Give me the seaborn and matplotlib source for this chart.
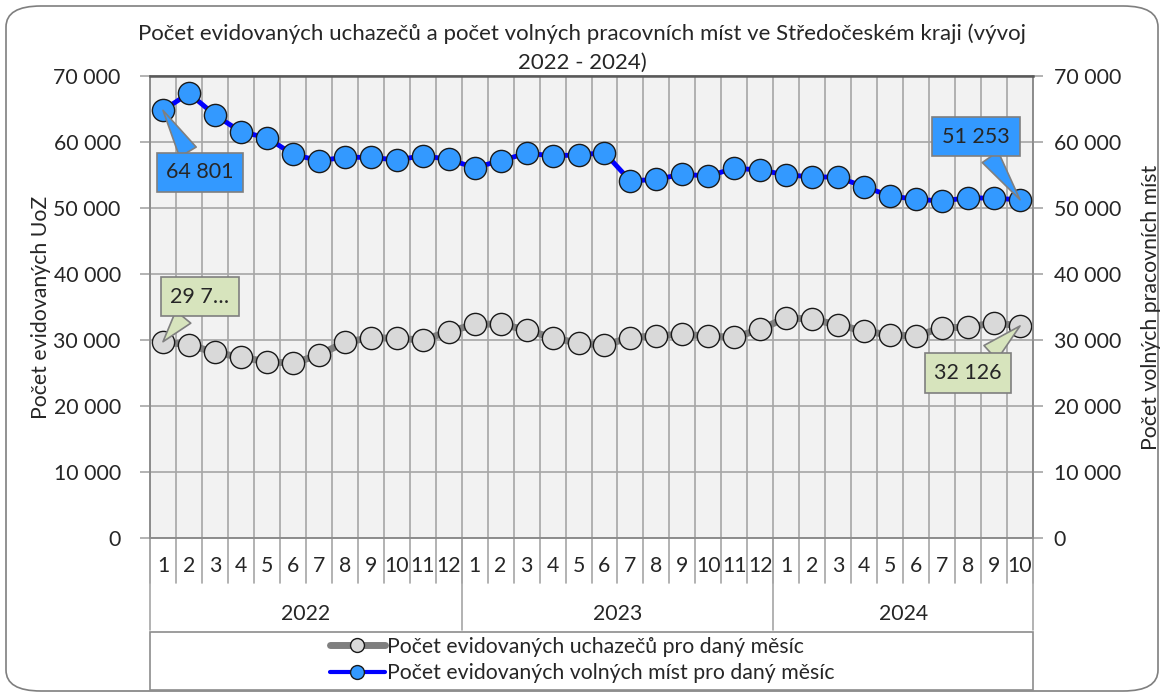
import numpy as np
import pandas as pd
import matplotlib
matplotlib.use("Agg")
import matplotlib.pyplot as plt
import seaborn as sns
from matplotlib.ticker import FuncFormatter
from matplotlib.lines import Line2D
from matplotlib.patches import FancyBboxPatch, Rectangle
import matplotlib.transforms as mtransforms

# ---------------- data ----------------
years = [2022, 2023, 2024]
months_per_year = [12, 12, 10]
months = [str(m) for y, n in zip(years, months_per_year) for m in range(1, n + 1)]
uchazeci = [29740, 29240, 28130, 27370, 26720, 26470, 27730, 29650, 30350, 30250, 30000, 31260,
            32370, 32420, 31510, 30350, 29500, 29240, 30350, 30650, 30860, 30600, 30400, 31620,
            33380, 33130, 32270, 31360, 30760, 30600, 31870, 31920, 32620, 32126]
volna_mista = [64801, 67380, 64090, 61560, 60650, 58140, 57170, 57680, 57680, 57270, 57920, 57380,
               56110, 57170, 58290, 57920, 58030, 58380, 54090, 54350, 55110, 54850, 56020, 55760,
               55000, 54740, 54650, 53230, 51820, 51320, 51060, 51560, 51470, 51253]
title = "Počet evidovaných uchazečů a počet volných pracovních míst ve Středočeském kraji (vývoj\n2022 - 2024)"
label_uoz = "Počet evidovaných uchazečů pro daný měsíc"
label_vm = "Počet evidovaných volných míst pro daný měsíc"
ylabel_left = "Počet evidovaných UoZ"
ylabel_right = "Počet volných pracovních míst"

df = pd.DataFrame({"idx": np.arange(len(months)), "uoz": uchazeci, "vm": volna_mista})

# ---------------- style ----------------
sns.set_style("white")
plt.rcParams["font.family"] = ["Lato", "DejaVu Sans"]
FS = 15.3

fig = plt.figure(figsize=(11.64, 6.97), dpi=100)
W, H = 1164, 697
ax = fig.add_axes([150 / W, 1 - 538 / H, (1033 - 150) / W, (538 - 76) / H])
ax2 = ax.twinx()

# frame around the whole chart
frame = FancyBboxPatch((6 / W, 6 / H), 1 - 12 / W, 1 - 12 / H,
                       boxstyle="round,pad=0,rounding_size=0.03",
                       transform=fig.transFigure, fc="white", ec="#7f7f7f", lw=1.2, zorder=-10)
fig.patches.append(frame)

ax.set_facecolor("#f2f2f2")
ax.set_xlim(-0.5, len(months) - 0.5)
ax.set_ylim(0, 70000)
ax2.set_ylim(0, 70000)
ax.set_yticks(np.arange(0, 70001, 10000))
ax2.set_yticks(np.arange(0, 70001, 10000))
fmt = FuncFormatter(lambda v, p: f"{int(v):,}".replace(",", " "))
ax.yaxis.set_major_formatter(fmt)
ax2.yaxis.set_major_formatter(fmt)
ax.tick_params(axis="y", labelsize=FS, length=7, width=1.2, color="#a6a6a6", pad=14)
ax2.tick_params(axis="y", labelsize=FS, length=7, width=1.2, color="#a6a6a6", pad=8)

ax.set_xticks(np.arange(-0.5, len(months), 1))
ax.set_xticklabels([])
ax.tick_params(axis="x", length=0)
ax.grid(True, axis="both", color="#a6a6a6", lw=1.2)
ax.set_axisbelow(True)

for a in (ax, ax2):
    for s in a.spines.values():
        s.set_color("#8c8c8c")
        s.set_linewidth(1.2)
ax2.spines["top"].set_color("#595959")
ax2.spines["top"].set_linewidth(1.8)
ax2.grid(False)

# lines
sns.lineplot(data=df, x="idx", y="uoz", ax=ax, color="#7f7f7f", lw=5, marker="o",
             markersize=16, markerfacecolor="#d9d9d9", markeredgecolor="#1a1a1a",
             markeredgewidth=1.0, legend=False, zorder=3)
sns.lineplot(data=df, x="idx", y="vm", ax=ax2, color="#0000ff", lw=3.5, marker="o",
             markersize=16, markerfacecolor="#3399ff", markeredgecolor="#1a1a1a",
             markeredgewidth=1.0, legend=False, zorder=3)
ax.set_xlabel("")
ax.set_ylabel(ylabel_left, fontsize=FS, labelpad=2)
ax2.set_ylabel(ylabel_right, fontsize=FS, labelpad=14)
ax2.set_xlim(-0.5, len(months) - 0.5)

# multi-level x axis
trans = mtransforms.blended_transform_factory(ax.transData, ax.transAxes)
for i, m in enumerate(months):
    ax.text(i, -0.0606, m, transform=trans, ha="center", va="center", fontsize=FS, clip_on=False)
for b in range(len(months) + 1):
    ax.plot([b - 0.5, b - 0.5], [0, -0.097], transform=trans, color="#a6a6a6", lw=1.2, clip_on=False)
start = 0
bounds = [0]
for y, n in zip(years, months_per_year):
    ax.text(start + (n - 1) / 2, -0.1645, str(y), transform=trans, ha="center", va="center",
            fontsize=FS, clip_on=False)
    start += n
    bounds.append(start)
for b in bounds:
    ax.plot([b - 0.5, b - 0.5], [0, -0.199], transform=trans, color="#a6a6a6", lw=1.2, clip_on=False)

# annotations (callouts)
def callout(a, x, y, text, off, fc):
    a.annotate(text, xy=(x, y), xytext=off, textcoords="offset pixels", ha="center", va="center",
               fontsize=15.5, zorder=5,
               bbox=dict(boxstyle="square,pad=0.45", fc=fc, ec="#7f7f7f", lw=1.2),
               arrowprops=dict(arrowstyle="wedge,tail_width=0.9,shrink_factor=0.5", fc=fc,
                               ec="#7f7f7f", lw=1.2, shrinkA=0, shrinkB=0))

n = len(months) - 1
callout(ax2, 0, volna_mista[0], f"{volna_mista[0]:,}".replace(",", " "), (37, -62), "#3399ff")
callout(ax2, n, volna_mista[-1], f"{volna_mista[-1]:,}".replace(",", " "), (-44, 63), "#3399ff")
callout(ax, 0, uchazeci[0], "29 7…", (37, 45), "#d7e4bd")
callout(ax, n, uchazeci[-1], f"{uchazeci[-1]:,}".replace(",", " "), (-52, -47), "#d7e4bd")

# title
fig.text(0.5, 1 - 48 / H, title, ha="center", va="center", fontsize=16, linespacing=1.55)

# legend
fig.patches.append(Rectangle((150 / W, 1 - 690 / H), (1033 - 150) / W, 58 / H,
                             transform=fig.transFigure, fc="white", ec="#8c8c8c", lw=1.2))
handles = [Line2D([], [], color="#7f7f7f", lw=5, marker="o", markersize=10, solid_capstyle="round",
                  markerfacecolor="#d9d9d9", markeredgecolor="#1a1a1a"),
           Line2D([], [], color="#0000ff", lw=3, marker="o", markersize=10,
                  markerfacecolor="#3399ff", markeredgecolor="#1a1a1a")]
fig.legend(handles, [label_uoz, label_vm], loc="center", bbox_to_anchor=(0.5, 1 - 660 / H),
           frameon=False, fontsize=FS, handlelength=2.6, handletextpad=0.1, labelspacing=0.3,
           borderpad=0)

fig.savefig("out.png", dpi=100)
